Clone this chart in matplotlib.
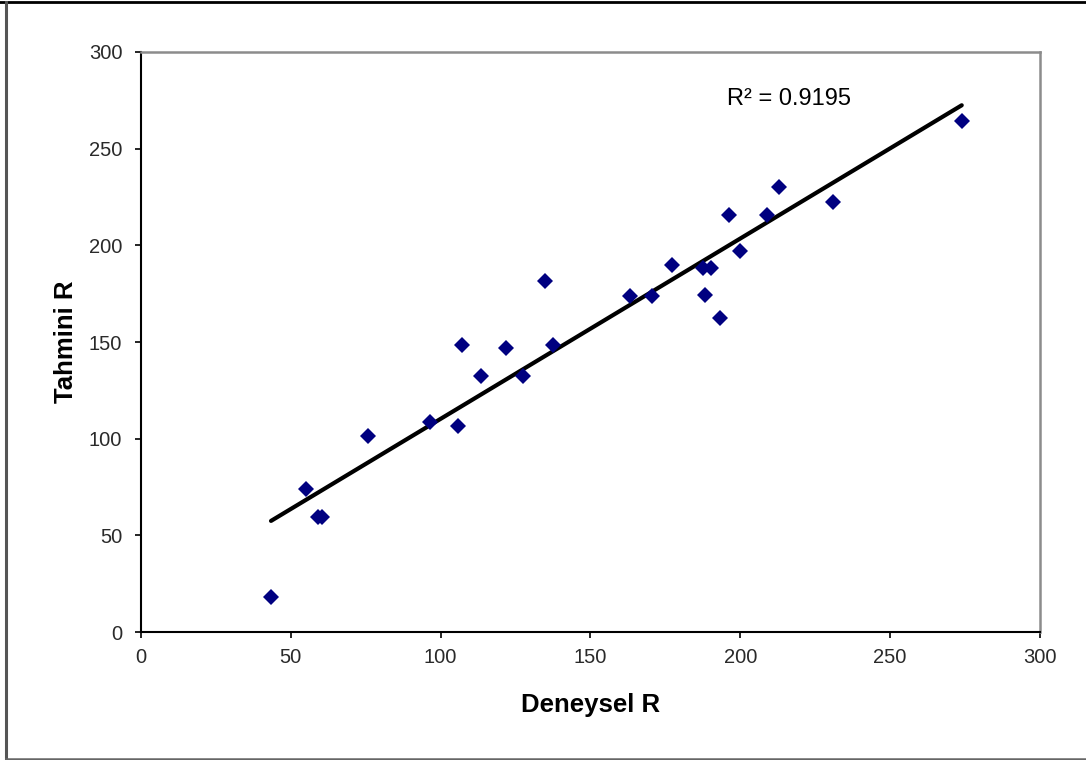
import matplotlib
matplotlib.use("Agg")
import matplotlib.pyplot as plt
from matplotlib.lines import Line2D
import numpy as np

# measured vs. predicted R values
deneysel = [43.4, 55.0, 59.0, 60.4, 75.7, 96.4, 105.8, 107.1, 113.4, 121.8, 127.5,
            134.8, 137.5, 163.2, 170.5, 177.2, 187.5, 190.2, 188.2, 193.2, 196.2,
            199.9, 208.9, 212.9, 230.9, 273.9]
tahmini = [18.1, 74.0, 59.5, 59.5, 101.4, 108.6, 106.6, 148.5, 132.4, 146.9, 132.4,
           181.6, 148.5, 173.8, 173.8, 189.9, 188.3, 188.3, 174.3, 162.4, 215.7,
           197.1, 215.7, 230.2, 222.4, 264.4]
r2_text = "R² = 0.9195"
ticks = [0, 50, 100, 150, 200, 250, 300]

plt.rcParams["font.family"] = ["Liberation Sans", "DejaVu Sans"]

fig = plt.figure(figsize=(10.86, 7.6), dpi=100)
fig.patch.set_facecolor("white")
ax = fig.add_axes([0.1298, 0.1684, 0.8278, 0.7632])

# linear trend over the data range
x = np.array(deneysel)
y = np.array(tahmini)
slope, intercept = np.polyfit(x, y, 1)
xs = np.array([x.min(), x.max()])
ax.plot(xs, slope * xs + intercept, color="black", linewidth=3.0,
        solid_capstyle="round", zorder=2)

ax.plot(deneysel, tahmini, linestyle="none", marker="D", markersize=8.2,
        color="#000080", markeredgewidth=0, zorder=3)

ax.text(195.5, 272.6, r2_text, fontsize=17, va="baseline", ha="left", color="black")

ax.set_xlim(0, 300)
ax.set_ylim(0, 300)
ax.set_xticks(ticks)
ax.set_yticks(ticks)
ax.tick_params(axis="both", direction="out", length=4.5, width=1.2,
               labelsize=14.5, colors="black", labelcolor="#2a2a2a",
               top=False, right=False)
ax.tick_params(axis="y", pad=9)
ax.tick_params(axis="x", pad=7)

for side in ["left", "bottom"]:
    ax.spines[side].set_color("black")
    ax.spines[side].set_linewidth(1.5)
for side in ["top", "right"]:
    ax.spines[side].set_color("#8c8c8c")
    ax.spines[side].set_linewidth(1.8)

ax.set_xlabel("Deneysel R", fontsize=18.5, fontweight="bold", labelpad=19)
ax.set_ylabel("Tahmini R", fontsize=18.5, fontweight="bold", labelpad=8)

# outer chart frame
fig.add_artist(Line2D([0, 1], [0.9975, 0.9975], transform=fig.transFigure,
                      color="black", linewidth=2.0))
fig.add_artist(Line2D([0.0058, 0.0058], [0.0, 0.998], transform=fig.transFigure,
                      color="#555555", linewidth=2.2))
fig.add_artist(Line2D([0.0058, 1], [0.001, 0.001], transform=fig.transFigure,
                      color="#666666", linewidth=1.8))

fig.savefig("out.png", dpi=100, facecolor="white")
